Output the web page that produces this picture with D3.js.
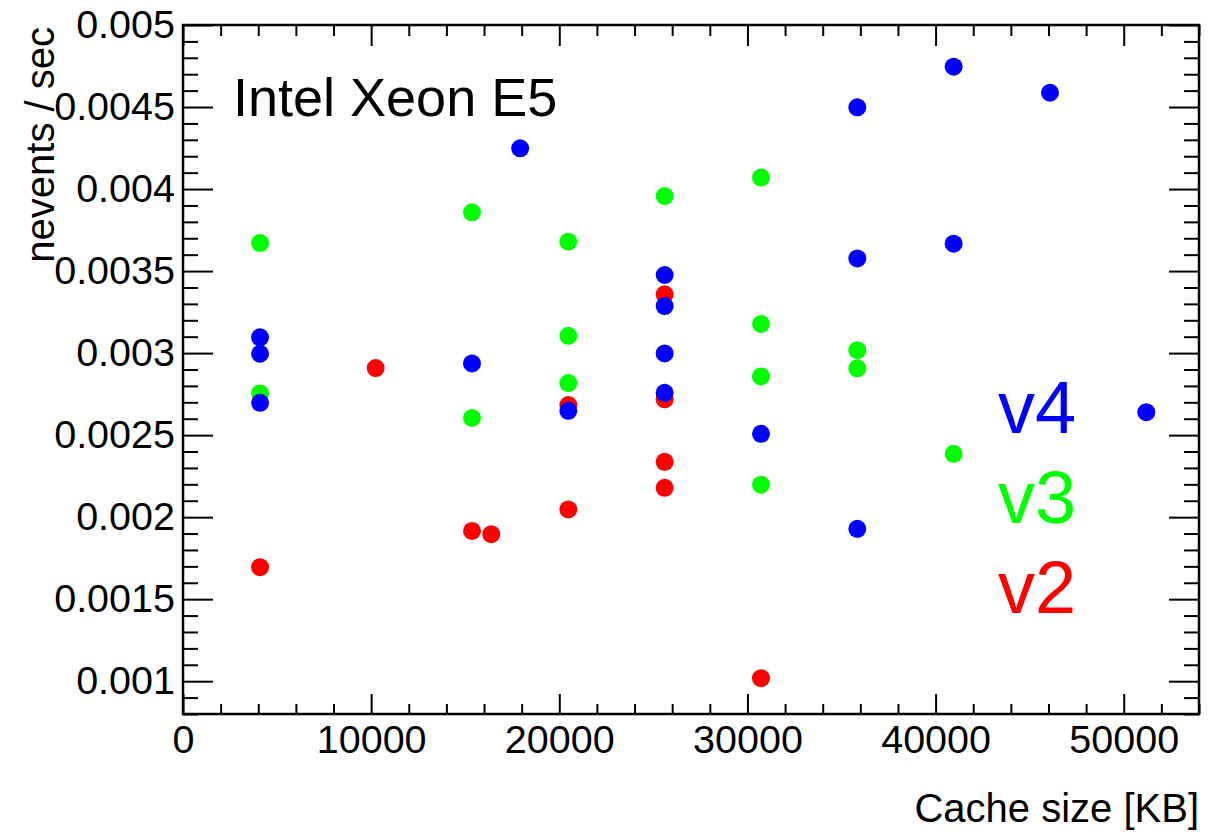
<!DOCTYPE html>
<html>
<head>
<meta charset="utf-8">
<script src="https://cdn.jsdelivr.net/npm/d3@7"></script>
<style>
  html, body { margin: 0; padding: 0; background: #fff; }
  svg { display: block; }
  text { font-family: "Liberation Sans", Arial, Helvetica, sans-serif; }
</style>
</head>
<body>
<svg id="chart" width="1225" height="834"></svg>
<script>
// ---- data (cache size in KB, nevents / sec) ----
const v2X = [4096, 10240, 15360, 16384, 20480, 20480, 25600, 25600, 25600, 25600, 30720];
const v2Y = [0.001695, 0.002909, 0.001916, 0.001896, 0.002683, 0.002047, 0.003358, 0.002718, 0.002337, 0.002179, 0.001018];

const v3X = [4096, 4096, 15360, 15360, 20480, 20480, 20480, 25600, 30720, 30720, 30720, 30720, 35840, 35840, 40960];
const v3Y = [0.003671, 0.002754, 0.003858, 0.002605, 0.003679, 0.003105, 0.002817, 0.003957, 0.004070, 0.003178, 0.002858, 0.002198, 0.003018, 0.002907, 0.002386];

const v4X = [4096, 4096, 4096, 15360, 17920, 20480, 25600, 25600, 25600, 25600, 30720, 35840, 35840, 35840, 40960, 40960, 46080, 51200];
const v4Y = [0.003096, 0.002996, 0.002697, 0.002937, 0.004248, 0.002648, 0.003476, 0.003287, 0.002998, 0.002758, 0.002508, 0.004498, 0.003577, 0.001929, 0.004746, 0.003667, 0.004587, 0.002640];

const seriesNames = ["v2", "v3", "v4"];
const seriesColors = ["#ff0000", "#00ff00", "#0000ff"];

const xTicks = [0, 10000, 20000, 30000, 40000, 50000];
const xTickLabels = ["0", "10000", "20000", "30000", "40000", "50000"];
const yTicks = [0.001, 0.0015, 0.002, 0.0025, 0.003, 0.0035, 0.004, 0.0045, 0.005];
const yTickLabels = ["0.001", "0.0015", "0.002", "0.0025", "0.003", "0.0035", "0.004", "0.0045", "0.005"];

const xDomain = [0, 54000];
const yDomain = [0.0008, 0.005];

// ---- layout ----
const L = 183, R = 1199, T = 25, B = 714;
const svg = d3.select("#chart");

const x = d3.scaleLinear().domain(xDomain).range([L, R]);
const y = d3.scaleLinear().domain(yDomain).range([B, T]);

const xMinor = x.ticks(27).filter(v => !xTicks.includes(v));
const yMinor = d3.range(8, 51).map(i => i / 10000).filter(v => !yTicks.some(t => Math.abs(t - v) < 1e-9));

function styleAxis(g) {
  g.select(".domain").remove();
  g.selectAll(".tick line").attr("stroke", "#000").attr("stroke-width", 2);
  g.selectAll(".tick text").attr("fill", "#000").style("font-size", "39.5px")
    .style("font-family", '"Liberation Sans", Arial, Helvetica, sans-serif');
}

// bottom
svg.append("g").attr("transform", `translate(0,${B})`)
  .call(d3.axisBottom(x).tickValues(xTicks).tickFormat((d, i) => xTickLabels[i]).tickSize(-20).tickPadding(11))
  .call(styleAxis);
svg.append("g").attr("transform", `translate(0,${B})`)
  .call(d3.axisBottom(x).tickValues(xMinor).tickFormat("").tickSize(-10))
  .call(styleAxis);
// top
svg.append("g").attr("transform", `translate(0,${T})`)
  .call(d3.axisTop(x).tickValues(xTicks).tickFormat("").tickSize(-21))
  .call(styleAxis);
svg.append("g").attr("transform", `translate(0,${T})`)
  .call(d3.axisTop(x).tickValues(xMinor).tickFormat("").tickSize(-11))
  .call(styleAxis);
// left
svg.append("g").attr("transform", `translate(${L},0)`)
  .call(d3.axisLeft(y).tickValues(yTicks).tickFormat((d, i) => yTickLabels[i]).tickSize(-30).tickPadding(8))
  .call(styleAxis);
svg.append("g").attr("transform", `translate(${L},0)`)
  .call(d3.axisLeft(y).tickValues(yMinor).tickFormat("").tickSize(-15))
  .call(styleAxis);
// right
svg.append("g").attr("transform", `translate(${R},0)`)
  .call(d3.axisRight(y).tickValues(yTicks).tickFormat("").tickSize(-30))
  .call(styleAxis);
svg.append("g").attr("transform", `translate(${R},0)`)
  .call(d3.axisRight(y).tickValues(yMinor).tickFormat("").tickSize(-15))
  .call(styleAxis);

// frame
svg.append("rect").attr("x", L).attr("y", T).attr("width", R - L).attr("height", B - T)
  .attr("fill", "none").attr("stroke", "#000").attr("stroke-width", 2.5);

// points
const series = [
  { name: "v2", xs: v2X, ys: v2Y, color: seriesColors[0] },
  { name: "v3", xs: v3X, ys: v3Y, color: seriesColors[1] },
  { name: "v4", xs: v4X, ys: v4Y, color: seriesColors[2] }
];
series.forEach(s => {
  svg.append("g").selectAll("circle")
    .data(s.xs.map((xv, i) => [xv, s.ys[i]]))
    .join("circle")
    .attr("cx", d => x(d[0]))
    .attr("cy", d => y(d[1]))
    .attr("r", 9)
    .attr("fill", s.color);
});

// titles
svg.append("text")
  .attr("x", R).attr("y", 822)
  .attr("text-anchor", "end")
  .style("font-size", "40px")
  .text("Cache size [KB]");

svg.append("text")
  .attr("transform", `translate(54,${T + 2}) rotate(-90)`)
  .attr("text-anchor", "end")
  .style("font-size", "40px")
  .text("nevents / sec");

svg.append("text")
  .attr("x", 233).attr("y", 116)
  .style("font-size", "54px")
  .text("Intel Xeon E5");

// legend labels (v4 top, v2 bottom)
const legendBase = [613, 523, 433];
series.forEach((s, i) => {
  svg.append("text")
    .attr("x", 998).attr("y", legendBase[i])
    .style("font-size", "74px")
    .attr("fill", s.color)
    .text(s.name);
});
</script>
</body>
</html>
